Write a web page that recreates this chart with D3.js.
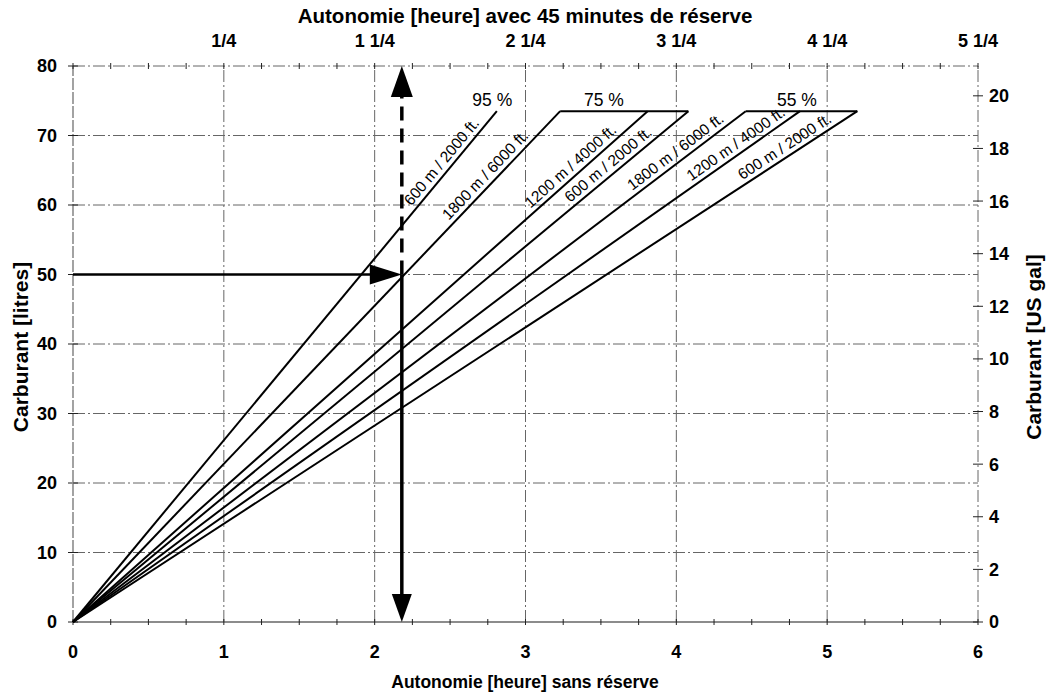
<!DOCTYPE html>
<html><head><meta charset="utf-8">
<script src="https://cdn.jsdelivr.net/npm/d3@7"></script>
<style>
body{margin:0;background:#fff;}
text{font-family:"Liberation Sans",Arial,sans-serif;fill:#000;}
</style></head>
<body><svg id="c" width="1051" height="697"></svg>
<script>
// ---- data ----
const xTicks = [0,1,2,3,4,5,6];
const yTicksLitres = [0,10,20,30,40,50,60,70,80];
const yTicksGal = [0,2,4,6,8,10,12,14,16,18,20];
const topTickLabels = ["1/4","1 1/4","2 1/4","3 1/4","4 1/4","5 1/4"];
const topTickValues = [1,2,3,4,5,6];
const lineLabels = ["600 m / 2000 ft.","1800 m / 6000 ft.","1200 m / 4000 ft.","600 m / 2000 ft.","1800 m / 6000 ft.","1200 m / 4000 ft.","600 m / 2000 ft."];
const linePower = ["95 %","75 %","75 %","75 %","55 %","55 %","55 %"];
const lineEndHours = [2.81,3.23,3.81,4.08,4.46,4.82,5.20];
const tankLitres = 73.5;
const powerGroups = ["95 %","75 %","55 %"];
const powerLabelHours = [2.78,3.52,4.80];
const exampleFuel = 50;
const exampleHours = 2.18;
const litresPerGal = 3.785411784;

// ---- layout ----
const svg = d3.select("#c");
const x = d3.scaleLinear().domain([0,6]).range([73,978]);
const y = d3.scaleLinear().domain([0,80]).range([622,66]);
const yGal = d3.scaleLinear().domain([0,80/litresPerGal]).range([622,66]);
const grid = "#666";
const dashDot = "12,3,2,3";

// grid lines
svg.append("g").selectAll("line").data(yTicksLitres.filter(d=>d>0)).join("line")
  .attr("x1",x(0)).attr("x2",x(6)).attr("y1",d=>y(d)).attr("y2",d=>y(d))
  .attr("stroke",grid).attr("stroke-width",1).attr("stroke-dasharray",dashDot);
svg.append("g").selectAll("line").data(xTicks.filter(d=>d>0)).join("line")
  .attr("x1",d=>x(d)).attr("x2",d=>x(d)).attr("y1",y(0)).attr("y2",y(80))
  .attr("stroke",grid).attr("stroke-width",1).attr("stroke-dasharray",dashDot);
// axes lines
svg.append("line").attr("x1",x(0)).attr("x2",x(6)).attr("y1",y(0)).attr("y2",y(0)).attr("stroke",grid).attr("stroke-width",1.3);
svg.append("line").attr("x1",x(0)).attr("x2",x(0)).attr("y1",y(0)).attr("y2",y(80)).attr("stroke",grid).attr("stroke-width",1.2).attr("stroke-dasharray","12,2");

// minor crossing ticks on bottom and top axes
const quarter = d3.range(0,6.01,0.25);
[y(0),y(80)].forEach(yy=>{
  svg.append("g").selectAll("line").data(quarter).join("line")
    .attr("x1",d=>x(d)).attr("x2",d=>x(d)).attr("y1",yy-3).attr("y2",yy+3)
    .attr("stroke","#222").attr("stroke-width",1);
});
// left ticks
svg.append("g").selectAll("line").data(yTicksLitres).join("line")
  .attr("x1",x(0)-5).attr("x2",x(0)+5).attr("y1",d=>y(d)).attr("y2",d=>y(d))
  .attr("stroke","#222").attr("stroke-width",1);
// right ticks
svg.append("g").selectAll("line").data(yTicksGal).join("line")
  .attr("x1",x(6)-5).attr("x2",x(6)+5).attr("y1",d=>yGal(d)).attr("y2",d=>yGal(d))
  .attr("stroke","#222").attr("stroke-width",1);

// tick labels
const tf = 18;
svg.append("g").selectAll("text").data(yTicksLitres).join("text")
  .attr("x",x(0)-16).attr("y",d=>y(d)).attr("dy","0.36em").attr("text-anchor","end")
  .attr("font-size",tf).attr("font-weight","bold").text(d=>d);
svg.append("g").selectAll("text").data(yTicksGal).join("text")
  .attr("x",x(6)+11).attr("y",d=>yGal(d)).attr("dy","0.36em").attr("text-anchor","start")
  .attr("font-size",tf).attr("font-weight","bold").text(d=>d);
svg.append("g").selectAll("text").data(xTicks).join("text")
  .attr("x",d=>x(d)).attr("y",y(0)+36).attr("text-anchor","middle")
  .attr("font-size",tf).attr("font-weight","bold").text(d=>d);
svg.append("g").selectAll("text").data(topTickValues).join("text")
  .attr("x",d=>x(d)).attr("y",y(80)-19).attr("text-anchor","middle")
  .attr("font-size",tf).attr("font-weight","bold").text((d,i)=>topTickLabels[i]);

// axis titles
svg.append("text").attr("x",525).attr("y",688).attr("text-anchor","middle")
  .attr("font-size",17.5).attr("font-weight","bold").text("Autonomie [heure] sans réserve");
svg.append("text").attr("x",525).attr("y",23).attr("text-anchor","middle")
  .attr("font-size",20.5).attr("font-weight","bold").text("Autonomie [heure] avec 45 minutes de réserve");
svg.append("text").attr("transform",`translate(28,347) rotate(-90)`).attr("text-anchor","middle")
  .attr("font-size",21).attr("font-weight","bold").text("Carburant [litres]");
svg.append("text").attr("transform",`translate(1041,347) rotate(-90)`).attr("text-anchor","middle")
  .attr("font-size",21).attr("font-weight","bold").text("Carburant [US gal]");

// consumption lines
const lines = lineEndHours.map((h,i)=>({h,i,label:lineLabels[i],power:linePower[i]}));
svg.append("g").selectAll("line").data(lines).join("line")
  .attr("x1",x(0)).attr("y1",y(0)).attr("x2",d=>x(d.h)).attr("y2",y(tankLitres))
  .attr("stroke","#000").attr("stroke-width",2);

// group brackets (horizontal caps)
powerGroups.forEach((g,gi)=>{
  const hs = lines.filter(d=>d.power===g).map(d=>d.h);
  const h0 = d3.min(hs), h1 = d3.max(hs);
  if(h1>h0){
    svg.append("line").attr("x1",x(h0)).attr("x2",x(h1)).attr("y1",y(tankLitres)).attr("y2",y(tankLitres))
      .attr("stroke","#000").attr("stroke-width",2);
  }
  svg.append("text").attr("x",x(powerLabelHours[gi])).attr("y",y(tankLitres)-5).attr("text-anchor","middle")
    .attr("font-size",17.5).text(g);
});

// line labels
const labelFuel = [65.3,63.3,64.5,64.7,66.5,67.6,67.2];
svg.append("g").selectAll("text").data(lines).join("text")
  .attr("transform",d=>{
    const f = labelFuel[d.i];
    const px = x(d.h*f/tankLitres), py = y(f);
    const ang = Math.atan2(y(tankLitres)-y(0), x(d.h)-x(0))*180/Math.PI;
    return `translate(${px},${py}) rotate(${ang})`;
  })
  .attr("y",-5).attr("text-anchor","middle").attr("font-size",15.5).text(d=>d.label);

// example arrows
const ex = x(exampleHours), ey = y(exampleFuel);
svg.append("line").attr("x1",x(0)).attr("x2",ex-20).attr("y1",ey).attr("y2",ey).attr("stroke","#000").attr("stroke-width",2.5);
svg.append("path").attr("d",`M${ex},${ey} L${ex-32},${ey-10} L${ex-32},${ey+10} Z`).attr("fill","#000");
svg.append("line").attr("x1",ex).attr("x2",ex).attr("y1",ey).attr("y2",y(0)-20).attr("stroke","#000").attr("stroke-width",3.5);
svg.append("path").attr("d",`M${ex},${y(0)} L${ex-10},${y(0)-28} L${ex+10},${y(0)-28} Z`).attr("fill","#000");
svg.append("line").attr("x1",ex).attr("x2",ex).attr("y1",ey).attr("y2",y(80)+25).attr("stroke","#000").attr("stroke-width",3.5).attr("stroke-dasharray","14,8");
svg.append("path").attr("d",`M${ex},${y(80)} L${ex-11},${y(80)+31} L${ex+11},${y(80)+31} Z`).attr("fill","#000");
</script></body></html>
